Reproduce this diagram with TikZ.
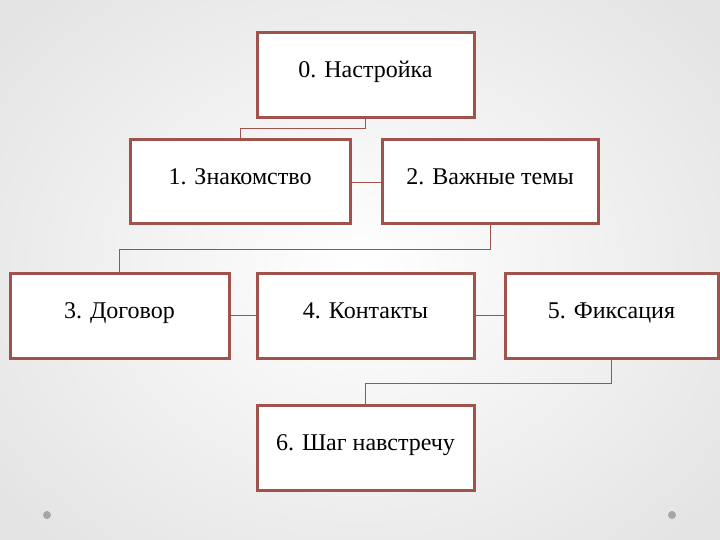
\documentclass[tikz,border=0pt]{standalone}
\usepackage{fontspec}
\setmainfont{Liberation Serif}
\definecolor{bx}{HTML}{A0524C}
\definecolor{bgedge}{HTML}{E4E4E4}
\begin{document}
\begin{tikzpicture}[x=1pt,y=-1pt,
  box/.style={draw=bx,line width=3pt,fill=white,inner sep=0pt,text height=0.62em,text depth=0.12em,font=\fontsize{24}{28}\selectfont},
  link/.style={draw=bx,line width=0.8pt}]
\useasboundingbox (0,0) rectangle (720,540);
\begin{scope}
\clip (0,0) rectangle (720,540);
\fill[bgedge] (0,0) rectangle (720,540);
\shade[inner color=white,outer color=bgedge] (-100,-100) rectangle (820,640);
\end{scope}
\fill[gray!70] (47,515) circle (4);
\fill[gray!70] (672,515) circle (4);
\node[box,minimum width=217pt,minimum height=85pt] (n0) at (365.5,75.5) {0. Настройка};
\node[box,minimum width=220pt,minimum height=84pt] (n1) at (240,182) {1. Знакомство};
\node[box,minimum width=216pt,minimum height=84pt] (n2) at (490,182) {2. Важные темы};
\node[box,minimum width=219pt,minimum height=85pt] (n3) at (119.5,315.5) {3. Договор};
\node[box,minimum width=217pt,minimum height=85pt] (n4) at (365.5,315.5) {4. Контакты};
\node[box,minimum width=213pt,minimum height=85pt] (n5) at (611.5,315.5) {5. Фиксация};
\node[box,minimum width=217pt,minimum height=85pt] (n6) at (365.5,447.5) {6. Шаг навстречу};
\draw[link] (n0.south) -- ++(0,9) -| (n1.north);
\draw[link] (n1) -- (n2);
\draw[link] (n2.south) -- ++(0,24) -| (n3.north);
\draw[link] (n3) -- (n4);
\draw[link] (n4) -- (n5);
\draw[link] (n5.south) -- ++(0,24) -| (n6.north);
\end{tikzpicture}
\end{document}
